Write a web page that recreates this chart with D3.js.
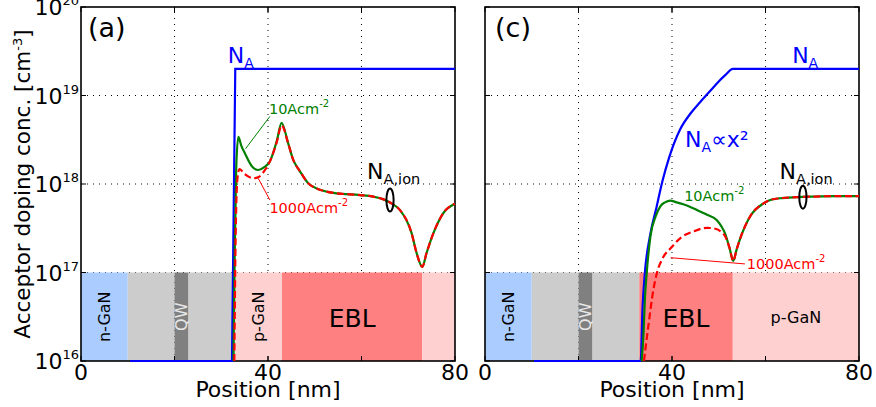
<!DOCTYPE html>
<html><head><meta charset="utf-8">
<script src="https://cdn.jsdelivr.net/npm/d3@7"></script>
<style>body{margin:0;background:#fff}svg{display:block;font-family:"DejaVu Sans",sans-serif}</style>
</head><body><svg id="c" width="876" height="407"></svg>
<script>
// ---------- data ----------
const xTicks = [0, 40, 80];
const xGrid = [20, 40, 60];
const yTicks = [1e16, 1e17, 1e18, 1e19, 1e20];
const yExp = ["16", "17", "18", "19", "20"];

// layers: [label, start nm, end nm, kind]
const layersA = [["n-GaN",0,10,"n"],["",10,20,"b"],["QW",20,23,"qw"],["",23,33,"b"],["p-GaN",33,43,"p"],["EBL",43,73,"ebl"],["",73,80,"p"]];
const layersC = [["n-GaN",0,10,"n"],["",10,20,"b"],["QW",20,23,"qw"],["",23,33,"b"],["EBL",33,53,"ebl"],["p-GaN",53,80,"p"]];

// panel (a)
const naA = [[10.5,1e16],[32.3,1e16],[33.0,2e19],[80,2e19]];
const ion10A = [[32.6,1e16],[32.9,2e17],[33.2,1.5e18],[33.65,3.4e18],[34.3,2.7e18],[35.1,2.2e18],[36.5,1.6e18],[37.9,1.44e18],[39.2,1.55e18],[40.4,1.8e18],[41.9,3.1e18],[42.9,4.9e18],[44.3,2.9e18],[45.4,1.87e18],[46.8,1.4e18],[48.6,1.02e18],[50.4,8.9e17],[52.5,8.2e17],[54.7,7.85e17],[59.7,7.5e17],[62.5,7.2e17],[64.7,6.7e17],[66.5,6.0e17],[68.2,5.1e17],[70.7,2.8e17],[71.8,1.65e17],[73.0,1.16e17],[73.9,1.65e17],[75.4,2.8e17],[77.5,4.7e17],[80,6.0e17]];
const ion1000A = [[32.8,1e16],[33.1,3e17],[33.5,1.2e18],[33.9,1.47e18],[35.0,1.3e18],[36.9,1.16e18],[38.0,1.2e18],[39.4,1.45e18],[40.5,1.85e18],[41.9,3.0e18],[42.9,4.6e18],[44.3,2.9e18],[45.4,1.87e18],[46.8,1.4e18],[48.6,1.02e18],[50.4,8.9e17],[52.5,8.2e17],[54.7,7.85e17],[59.7,7.5e17],[62.5,7.2e17],[64.7,6.7e17],[66.5,6.0e17],[68.2,5.1e17],[70.7,2.8e17],[71.8,1.65e17],[73.0,1.16e17],[73.9,1.65e17],[75.4,2.8e17],[77.5,4.7e17],[80,6.0e17]];

// panel (c)
const naC = [[10.5,1e16],[33.3,1e16],[33.7,4e16],[34.2,1e17],[35.3,2.6e17],[36.7,5.5e17],[38,1.1e18],[39.4,2.0e18],[41.7,4.1e18],[44,6.3e18],[46,8.4e18],[48,1.1e19],[49.6,1.37e19],[51.5,1.72e19],[53,2e19],[80,2e19]];
const ion10C = [[33.5,1e16],[33.9,2e16],[34.2,5e16],[34.6,1e17],[35.4,2.6e17],[36.5,4.3e17],[37.5,5.6e17],[38.5,6.2e17],[39.6,6.5e17],[41,6.2e17],[42.4,5.9e17],[45.3,5.1e17],[47.5,4.5e17],[49.6,3.9e17],[50.6,3.3e17],[51.3,2.8e17],[52.3,1.9e17],[53.1,1.35e17],[53.8,1.8e17],[54.5,2.35e17],[56.7,4.3e17],[59.5,6.0e17],[61,6.6e17],[63.1,6.9e17],[66.7,7.1e17],[70,7.2e17],[75,7.3e17],[80,7.3e17]];
const ion1000C = [[34.0,1e16],[34.9,2.4e16],[36.0,6.3e16],[36.8,1e17],[38.0,1.45e17],[39.8,1.9e17],[42,2.5e17],[44.5,2.9e17],[47.5,3.2e17],[49.5,3.1e17],[50.6,2.85e17],[51.3,2.6e17],[52.3,1.9e17],[53.1,1.35e17],[53.8,1.8e17],[54.5,2.35e17],[56.7,4.3e17],[59.5,6.0e17],[61,6.6e17],[63.1,6.9e17],[66.7,7.1e17],[70,7.2e17],[75,7.3e17],[80,7.3e17]];

// ---------- styles ----------
const layerColor = {n:"#aaccff", b:"#cccccc", qw:"#808080", p:"#ffd0d0", ebl:"#ff8080"};
const BLUE = "#0000ff", GREEN = "#008000", RED = "#ff0000";

const svg = d3.select("#c");
const y = d3.scaleLog().domain([1e16, 1e20]).range([361, 7]);

function drawPanel(x0, x1, layers, na, ion10, ion1000, opts) {
  const x = d3.scaleLinear().domain([0, 80]).range([x0, x1]);
  const g = svg.append("g");
  const line = d3.line().x(d => x(d[0])).y(d => y(d[1])).curve(d3.curveMonotoneX);
  const lineLin = d3.line().x(d => x(d[0])).y(d => y(d[1]));

  // grid
  g.selectAll(".gx").data(xGrid).join("line")
    .attr("x1", d => x(d)).attr("x2", d => x(d)).attr("y1", y.range()[0]).attr("y2", y.range()[1])
    .attr("stroke", "#000").attr("stroke-width", 1).attr("stroke-dasharray", "1,5");
  g.selectAll(".gy").data(yTicks.slice(1, 4)).join("line")
    .attr("x1", x0).attr("x2", x1).attr("y1", d => y(d)).attr("y2", d => y(d))
    .attr("stroke", "#000").attr("stroke-width", 1).attr("stroke-dasharray", "1,5");

  // layers band between 1e16 and 1e17
  g.selectAll(".ly").data(layers).join("rect")
    .attr("x", d => x(d[1])).attr("width", d => x(d[2]) - x(d[1]))
    .attr("y", y(1e17)).attr("height", y(1e16) - y(1e17))
    .attr("fill", d => layerColor[d[3]]);
  const yMid = (y(1e16) + y(1e17)) / 2;
  layers.forEach(d => {
    if (!d[0]) return;
    const cx = x((d[1] + d[2]) / 2);
    if (d[0] === "EBL") {
      g.append("text").attr("x", cx).attr("y", 327).attr("text-anchor", "middle")
        .attr("font-size", 25).attr("fill", "#000").text(d[0]);
    } else if (d[0] === "p-GaN" && opts.horizontalP) {
      g.append("text").attr("x", cx).attr("y", 323).attr("text-anchor", "middle")
        .attr("font-size", 16).attr("fill", "#000").text(d[0]);
    } else {
      g.append("text").attr("transform", `translate(${cx},${yMid}) rotate(-90)`)
        .attr("text-anchor", "middle").attr("dominant-baseline", "central")
        .attr("font-size", 16).attr("fill", d[0] === "QW" ? "#e8e8e8" : "#000").text(d[0]);
    }
  });

  // frame
  g.append("rect").attr("x", x0).attr("y", y.range()[1]).attr("width", x1 - x0)
    .attr("height", y.range()[0] - y.range()[1]).attr("fill", "none").attr("stroke", "#000").attr("stroke-width", 1.6);

  // ticks (inward, all four sides)
  [20, 40, 60].concat(xTicks).forEach(t => {
    g.append("line").attr("x1", x(t)).attr("x2", x(t)).attr("y1", y.range()[0]).attr("y2", y.range()[0] - 5).attr("stroke", "#000");
    g.append("line").attr("x1", x(t)).attr("x2", x(t)).attr("y1", y.range()[1]).attr("y2", y.range()[1] + 5).attr("stroke", "#000");
  });
  yTicks.forEach(t => {
    g.append("line").attr("x1", x0).attr("x2", x0 + 5).attr("y1", y(t)).attr("y2", y(t)).attr("stroke", "#000");
    g.append("line").attr("x1", x1).attr("x2", x1 - 5).attr("y1", y(t)).attr("y2", y(t)).attr("stroke", "#000");
  });

  // curves
  g.append("path").attr("d", opts.naLinear ? lineLin(na) : line(na)).attr("fill", "none")
    .attr("stroke", BLUE).attr("stroke-width", 2.2);
  g.append("path").attr("d", line(ion10)).attr("fill", "none").attr("stroke", GREEN).attr("stroke-width", 2.2);
  g.append("path").attr("d", line(ion1000)).attr("fill", "none").attr("stroke", RED)
    .attr("stroke-width", 2.2).attr("stroke-dasharray", "7,3.5");

  // x tick labels
  xTicks.forEach(t => {
    g.append("text").attr("x", x(t)).attr("y", 380).attr("text-anchor", "middle")
      .attr("font-size", 22).attr("fill", "#000").text(t);
  });
  g.append("text").attr("x", (x0 + x1) / 2).attr("y", 397).attr("text-anchor", "middle")
    .attr("font-size", 22).attr("fill", "#000").text("Position [nm]");

  // panel label
  g.append("text").attr("x", x0 + opts.labelDx).attr("y", 37).attr("font-size", 27).attr("fill", "#000").text(opts.label);

  // annotations
  const A = opts.ann;
  function sub(sel, main, subTxt, size, subSize, rest) {
    sel.append("tspan").text(main);
    sel.append("tspan").attr("font-size", subSize).attr("dy", 5).text(subTxt);
    if (rest) sel.append("tspan").attr("dy", -5).text(rest);
  }
  function sup(sel, main, supTxt, subSize) {
    sel.append("tspan").text(main);
    sel.append("tspan").attr("font-size", subSize).attr("dy", -7).text(supTxt);
  }
  let t = g.append("text").attr("x", x(A.na[0])).attr("y", y(A.na[1])).attr("font-size", 22).attr("fill", BLUE);
  sub(t, "N", "A", 22, 14);
  if (A.nax2) {
    t = g.append("text").attr("x", x(A.nax2[0])).attr("y", y(A.nax2[1])).attr("font-size", 22).attr("fill", BLUE);
    sub(t, "N", "A", 22, 14, "\u221Dx\u00B2");
  }
  t = g.append("text").attr("x", x(A.ion[0])).attr("y", y(A.ion[1])).attr("font-size", 22).attr("fill", "#000");
  sub(t, "N", "A,ion", 22, 14.5);
  g.append("ellipse").attr("cx", x(A.ell[0])).attr("cy", y(A.ell[1])).attr("rx", 3.6).attr("ry", 11.5)
    .attr("fill", "none").attr("stroke", "#000").attr("stroke-width", 2);
  t = g.append("text").attr("x", x(A.g[0])).attr("y", y(A.g[1])).attr("font-size", 14.5).attr("fill", GREEN);
  sup(t, "10Acm", "-2", 10);
  if (A.gl) g.append("line").attr("x1", x(A.gl[0][0])).attr("y1", y(A.gl[0][1])).attr("x2", x(A.gl[1][0])).attr("y2", y(A.gl[1][1]))
    .attr("stroke", GREEN).attr("stroke-width", 1);
  t = g.append("text").attr("x", x(A.r[0])).attr("y", y(A.r[1])).attr("font-size", 14.5).attr("fill", RED);
  sup(t, "1000Acm", "-2", 10);
  g.append("line").attr("x1", x(A.rl[0][0])).attr("y1", y(A.rl[0][1])).attr("x2", x(A.rl[1][0])).attr("y2", y(A.rl[1][1]))
    .attr("stroke", RED).attr("stroke-width", 1);
}

drawPanel(81, 455, layersA, naA, ion10A, ion1000A, {
  label: "(a)", labelDx: 7, naLinear: true, horizontalP: false,
  ann: { na: [31.4, 2.33e19], ion: [61.2, 1.15e18], ell: [66.1, 6.6e17],
         g: [40.2, 6.2e18], gl: [[35.2, 2.5e18], [40.4, 5.8e18]],
         r: [40.3, 4.7e17], rl: [[37.9, 1.16e18], [40.4, 6.6e17]] }
});
drawPanel(485, 859, layersC, naC, ion10C, ion1000C, {
  label: "(c)", labelDx: 10, naLinear: false, horizontalP: true,
  ann: { na: [65.7, 2.33e19], nax2: [42.8, 2.64e18], ion: [63.0, 1.15e18], ell: [68.0, 7.1e17],
         g: [42.6, 6.5e17], r: [56.0, 1.09e17], rl: [[39.7, 1.47e17], [55.6, 1.25e17]] }
});

// y tick labels (left panel only)
yTicks.forEach((t, i) => {
  const tx = svg.append("text").attr("x", 79).attr("y", y(t) + 8).attr("text-anchor", "end")
    .attr("font-size", 22).attr("fill", "#000");
  tx.append("tspan").text("10");
  tx.append("tspan").attr("font-size", 13).attr("dy", -10).text(yExp[i]);
});

// y axis title
const yt = svg.append("text").attr("transform", `translate(30,${(y(1e16) + y(1e20)) / 2}) rotate(-90)`)
  .attr("text-anchor", "middle").attr("font-size", 21.5).attr("fill", "#000");
yt.append("tspan").text("Acceptor doping conc. [cm");
yt.append("tspan").attr("font-size", 13).attr("dy", -8).text("-3");
yt.append("tspan").attr("dy", 8).text("]");
</script></body></html>
